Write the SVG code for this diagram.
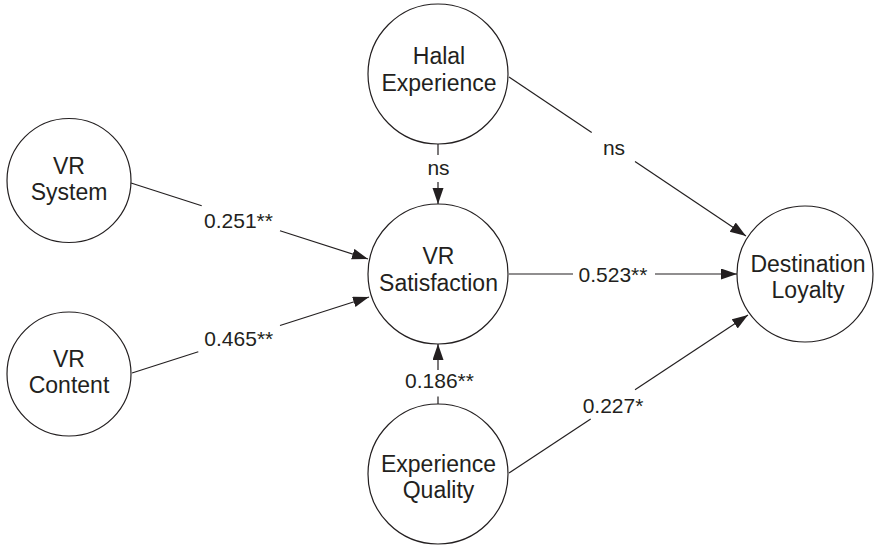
<svg xmlns="http://www.w3.org/2000/svg" width="874" height="545" viewBox="0 0 874 545">
<style>
.node circle{fill:#fff;stroke:#231f20;stroke-width:1.2}
.node text{font-family:"Liberation Sans",Arial,sans-serif;font-size:23px;fill:#231f20;text-anchor:middle}
.edge{stroke:#231f20;stroke-width:1.2;fill:none}
.lbl{font-family:"Liberation Sans",Arial,sans-serif;font-size:21px;fill:#231f20;text-anchor:middle}
</style>
<defs>
<marker id="arr" markerUnits="userSpaceOnUse" markerWidth="17" markerHeight="12" refX="16" refY="5.5" orient="auto">
<path d="M0,0 L16,5.5 L0,11 z" fill="#231f20"/>
</marker>
</defs>
<rect width="874" height="545" fill="#fff"/>
<g id="connectors">
<!-- Halal -> Destination -->
<line class="edge" x1="509" y1="77" x2="591.7" y2="132.5"/>
<line class="edge" x1="635" y1="161.5" x2="746" y2="236" marker-end="url(#arr)"/>
<text class="lbl" x="614" y="155">ns</text>
<!-- Satisfaction -> Destination -->
<line class="edge" x1="509" y1="274" x2="573" y2="274"/>
<line class="edge" x1="655" y1="274" x2="737" y2="274" marker-end="url(#arr)"/>
<text class="lbl" x="613" y="282">0.523**</text>
<!-- Experience Quality -> Destination -->
<line class="edge" x1="509" y1="473" x2="590.7" y2="419"/>
<line class="edge" x1="635" y1="389.7" x2="748" y2="315" marker-end="url(#arr)"/>
<text class="lbl" x="613" y="413">0.227*</text>
<!-- VR System -> Satisfaction -->
<line class="edge" x1="131" y1="183" x2="201.7" y2="205.7"/>
<line class="edge" x1="280" y1="230.8" x2="368" y2="259" marker-end="url(#arr)"/>
<text class="lbl" x="238.5" y="228">0.251**</text>
<!-- VR Content -> Satisfaction -->
<line class="edge" x1="132" y1="373" x2="198.3" y2="351.7"/>
<line class="edge" x1="280" y1="325.5" x2="369" y2="297" marker-end="url(#arr)"/>
<text class="lbl" x="238.8" y="346">0.465**</text>
<!-- Halal -> Satisfaction -->
<line class="edge" x1="438" y1="144" x2="438" y2="155"/>
<line class="edge" x1="438" y1="182" x2="438" y2="204" marker-end="url(#arr)"/>
<text class="lbl" x="438.5" y="175">ns</text>
<!-- Experience Quality -> Satisfaction -->
<line class="edge" x1="438" y1="404" x2="438" y2="396.5"/>
<line class="edge" x1="438" y1="370" x2="438" y2="344" marker-end="url(#arr)"/>
<text class="lbl" x="439.5" y="388">0.186**</text>
</g>
<g id="halal-experience" class="node">
<circle cx="438" cy="74" r="70"/>
<text x="439" y="64">Halal</text>
<text x="439" y="91">Experience</text>
</g>
<g id="vr-system" class="node">
<circle cx="69" cy="180.5" r="62"/>
<text x="69" y="174">VR</text>
<text x="69" y="200">System</text>
</g>
<g id="vr-content" class="node">
<circle cx="69" cy="374" r="62"/>
<text x="69" y="366.7">VR</text>
<text x="69" y="393.3">Content</text>
</g>
<g id="vr-satisfaction" class="node">
<circle cx="438" cy="274" r="70"/>
<text x="438.5" y="264">VR</text>
<text x="438.5" y="290.7">Satisfaction</text>
</g>
<g id="experience-quality" class="node">
<circle cx="438" cy="474" r="70"/>
<text x="438.5" y="471.7">Experience</text>
<text x="438.5" y="498.3">Quality</text>
</g>
<g id="destination-loyalty" class="node">
<circle cx="805" cy="274" r="68"/>
<text x="808" y="271.7">Destination</text>
<text x="808" y="298.3">Loyalty</text>
</g>
</svg>
